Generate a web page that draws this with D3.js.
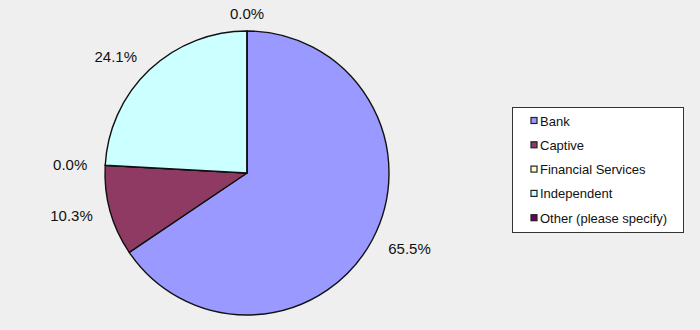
<!DOCTYPE html>
<html>
<head>
<meta charset="utf-8">
<script src="https://cdn.jsdelivr.net/npm/d3@7"></script>
<style>
  html, body { margin: 0; padding: 0; background: #efefef; }
  svg { display: block; font-family: "Liberation Sans", Arial, sans-serif; }
</style>
</head>
<body>
<svg id="chart"></svg>
<script>
const categories = ['Bank', 'Captive', 'Financial Services', 'Independent', 'Other (please specify)'];
const shares = [65.5, 10.3, 0.0, 24.1, 0.0];
const colors = ['#9999ff', '#8e3a63', '#ffffcc', '#ccffff', '#660066'];

const width = 700;
const height = 330;
const cx = 247;
const cy = 173;
const radius = 142;
const labelRadius = 160;

const svg = d3.select('#chart')
  .attr('width', width)
  .attr('height', height);

const rows = categories.map((c, i) => ({ name: c, value: shares[i], color: colors[i] }));

const pie = d3.pie()
  .value(d => d.value)
  .sort(null);

const arc = d3.arc()
  .innerRadius(0)
  .outerRadius(radius);

const g = svg.append('g')
  .attr('transform', 'translate(' + cx + ',' + cy + ')');

const arcs = pie(rows);

// slices
g.selectAll('path')
  .data(arcs)
  .enter()
  .append('path')
  .attr('d', arc)
  .attr('fill', d => d.data.color)
  .attr('stroke', '#111')
  .attr('stroke-width', 1.4)
  .attr('stroke-linejoin', 'round');

// percentage labels
g.selectAll('text.lbl')
  .data(arcs)
  .enter()
  .append('text')
  .attr('class', 'lbl')
  .each(function(d) {
    const a = (d.startAngle + d.endAngle) / 2;
    const x = labelRadius * Math.sin(a);
    const y = -labelRadius * Math.cos(a);
    let anchor = 'middle';
    if (x > 20) anchor = 'start';
    else if (x < -20) anchor = 'end';
    d3.select(this)
      .attr('x', x)
      .attr('y', y)
      .attr('text-anchor', anchor)
      .attr('dominant-baseline', 'central');
  })
  .style('font-size', '15px')
  .attr('fill', '#111')
  .text(d => d.data.value.toFixed(1) + '%');

// legend
const legend = svg.append('g')
  .attr('transform', 'translate(512,107)');

legend.append('rect')
  .attr('x', 0.5)
  .attr('y', 0.5)
  .attr('width', 171)
  .attr('height', 125)
  .attr('fill', '#fff')
  .attr('stroke', '#333')
  .attr('stroke-width', 1);

const item = legend.selectAll('g.item')
  .data(rows)
  .enter()
  .append('g')
  .attr('class', 'item')
  .attr('transform', (d, i) => 'translate(19,' + (14 + i * 24.3) + ')');

item.append('rect')
  .attr('x', 0)
  .attr('y', -3.5)
  .attr('width', 6)
  .attr('height', 6)
  .attr('fill', d => d.color)
  .attr('stroke', '#222')
  .attr('stroke-width', 1.2);

item.append('text')
  .attr('x', 9)
  .attr('y', 0)
  .attr('dominant-baseline', 'central')
  .style('font-size', '13px')
  .attr('fill', '#111')
  .text(d => d.name);
</script>
</body>
</html>
